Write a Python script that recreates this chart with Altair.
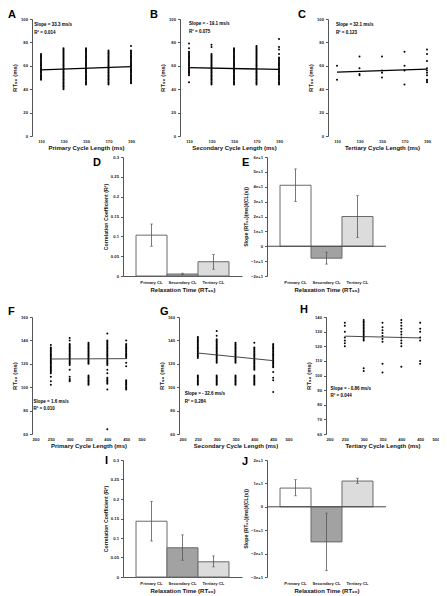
import altair as alt
import pandas as pd

FONT = "Liberation Sans"

# ---------------- scatter data (RT90 values per cycle length) ----------------
CL_TOP = [110, 130, 150, 170, 190]
A_110 = [70, 69, 68, 67, 66, 65, 64, 63, 62, 61, 60, 59, 58, 57, 56, 55, 54, 53, 52, 51, 50, 49, 48]
A_130 = [75, 74, 73, 72, 71, 70, 69, 68, 67, 66, 65, 64, 63, 62, 61, 60, 59, 58, 57, 56, 55, 54, 53, 52, 51, 50, 49, 48, 47, 46, 45, 44, 43, 42, 41, 40]
A_150 = [75, 74, 73, 72, 71, 70, 69, 68, 67, 66, 65, 64, 63, 62, 61, 60, 59, 58, 57, 56, 55, 54, 53, 52, 51, 50, 49, 48, 47, 46, 45, 44]
A_170 = [73, 72, 71, 70, 69, 68, 67, 66, 65, 64, 63, 62, 61, 60, 59, 58, 57, 56, 55, 54, 53, 52, 51, 50, 49, 48, 47, 46, 45, 44]
A_190 = [77, 73, 72, 71, 70, 69, 68, 67, 66, 65, 64, 63, 62, 61, 60, 59, 58, 57, 56, 55, 54, 53, 52, 51, 50, 49, 48, 47, 46, 45]
A_fit = [56.6, 59.3]

B_110 = [79, 75, 72, 71, 70, 69, 68, 67, 66, 65, 64, 63, 62, 61, 60, 59, 58, 57, 56, 55, 54, 53, 52, 46]
B_130 = [78, 76, 70, 69, 68, 67, 66, 65, 64, 63, 62, 61, 60, 59, 58, 57, 56, 55, 54, 53, 52, 51, 50, 49, 48, 47, 46, 45, 44]
B_150 = [75, 74, 73, 72, 71, 70, 69, 68, 67, 66, 65, 64, 63, 62, 61, 60, 59, 58, 57, 56, 55, 54, 53, 52, 51, 50, 49, 48, 47, 46, 45, 44]
B_170 = [77, 76, 75, 74, 73, 72, 71, 70, 69, 68, 67, 66, 65, 64, 63, 62, 61, 60, 59, 58, 57, 56, 55, 54, 53, 52, 51, 50, 49, 48, 47, 46, 45, 44]
B_190 = [83, 76, 74, 70, 67, 66, 65, 64, 63, 62, 61, 60, 59, 58, 57, 56, 55, 54, 53, 52, 51, 50, 49, 48, 47, 46, 45, 44]
B_fit = [58.4, 56.9]

C_110 = [60, 48]
C_130 = [68, 58, 53, 52]
C_150 = [68, 56, 54, 50]
C_170 = [72, 60, 56, 44]
C_190 = [74, 70, 64, 58, 56, 54, 52, 48, 47, 46]
C_fit = [54.6, 57.2]

CL_BOT = [250, 300, 350, 400, 450]
F_250 = [136, 134, 133, 132, 131, 130, 129, 128, 127, 126, 125, 124, 123, 122, 121, 120, 119, 118, 117, 116, 115, 114, 113, 112, 109, 105, 102]
F_300 = [142, 140, 137, 136, 135, 134, 133, 132, 131, 130, 129, 128, 127, 126, 125, 124, 123, 122, 121, 120, 119, 115, 109, 107, 106, 105]
F_350 = [138, 137, 136, 135, 134, 133, 132, 131, 130, 129, 128, 127, 126, 125, 124, 123, 122, 121, 120, 110, 109, 108, 107, 106, 105, 104, 103, 102]
F_400 = [146, 140, 139, 138, 137, 136, 135, 134, 133, 132, 131, 130, 129, 128, 127, 126, 125, 124, 123, 122, 121, 120, 119, 115, 112, 108, 107, 106, 105, 104, 103, 98, 64]
F_450 = [140, 137, 136, 135, 134, 133, 132, 131, 130, 129, 128, 127, 126, 125, 121, 118, 106, 105, 104, 103, 102, 101, 100, 99, 98]
F_fit = [124.1, 124.4]

G_250 = [143, 142, 141, 140, 139, 138, 137, 136, 135, 134, 133, 132, 131, 130, 129, 128, 127, 126, 125, 110, 109, 108, 107, 106, 105, 104, 103, 102]
G_300 = [148, 144, 141, 140, 139, 138, 137, 136, 135, 134, 133, 132, 131, 130, 129, 128, 127, 126, 125, 124, 123, 122, 121, 110, 109, 108, 107, 106, 105, 104, 103, 102]
G_350 = [138, 137, 136, 135, 134, 133, 132, 131, 130, 129, 128, 127, 126, 125, 124, 123, 122, 121, 110, 109, 108, 107, 106, 105, 104, 103, 102]
G_400 = [138, 134, 133, 132, 131, 130, 129, 128, 127, 126, 125, 124, 123, 122, 121, 120, 119, 118, 117, 116, 115, 110, 109, 108, 107, 106, 105, 104, 103, 102]
G_450 = [137, 136, 135, 134, 133, 132, 131, 130, 129, 128, 127, 126, 125, 124, 123, 122, 121, 120, 119, 118, 117, 113, 108, 106, 96]
G_fit = [129.2, 122.7]

H_250 = [136, 134, 130, 126, 124, 122, 120]
H_300 = [138, 137, 136, 135, 134, 133, 132, 131, 130, 129, 128, 127, 126, 125, 124, 105, 103]
H_350 = [136, 133, 131, 129, 127, 125, 123, 108, 102]
H_400 = [138, 136, 134, 132, 130, 128, 126, 124, 122, 120, 106]
H_450 = [136, 132, 130, 126, 124, 110, 108]
H_fit = [126.9, 125.7]

# annotation texts and their data-space anchors
A_notes, A_nx, A_ny = ["Slope = 33.3 ms/s", "R² = 0.014"], [104, 104], [95, 88]
B_notes, B_nx, B_ny = ["Slope = - 19.1 ms/s", "R² = 0.075"], [110, 110], [95.5, 88.5]
C_notes, C_nx, C_ny = ["Slope = 32.1 ms/s", "R² = 0.123"], [109, 109], [95, 88]
F_notes, F_nx, F_ny = ["Slope = 1.6 ms/s", "R² = 0.010"], [204, 204], [87, 81]
G_notes, G_nx, G_ny = ["Slope = - 32.6 ms/s", "R² = 0.284"], [215, 215], [94, 87.5]
H_notes, H_nx, H_ny = ["Slope = - 0.86 ms/s", "R² = 0.044"], [212, 212], [90.5, 86]

# ---------------- bar data ----------------
CATS = ["Primary CL", "Secondary CL", "Tertiary CL"]
BAR_COLORS = ["#ffffff", "#a2a2a2", "#dcdcdc"]
D_val, D_lo, D_hi = [0.103, 0.005, 0.036], [0.075, 0.003, 0.017], [0.131, 0.007, 0.054]
E_val, E_lo, E_hi = [41, -8, 20], [30, -12, 6], [52, -4, 34]
I_val, I_lo, I_hi = [0.143, 0.075, 0.039], [0.092, 0.043, 0.026], [0.194, 0.108, 0.054]
J_val, J_lo, J_hi = [8, -15, 11], [4.7, -27.3, 10], [11.6, -2.7, 12.2]


def letter_title(t, dx, dy):
    return alt.TitleParams(t, anchor="start", frame="group", baseline="top", offset=0,
                           dx=dx, dy=dy, font=FONT, fontSize=11, fontWeight="bold", color="black")


def scatter_panel(letter, cls, cols, fit_x, fit_y, notes, nx, ny, xdom, xticks, ydom, yticks,
                  xtitle, w, h, ldx, ldy, lw, lcolor):
    df = pd.DataFrame([(c, v) for c, col in zip(cls, cols) for v in col], columns=["x", "y"])
    fit = pd.DataFrame({"x": fit_x, "y": fit_y})
    ann = pd.DataFrame({"x": nx, "y": ny, "t": notes})
    X = alt.X("x:Q", scale=alt.Scale(domain=xdom, nice=False, zero=False),
              axis=alt.Axis(values=xticks, title=xtitle, domain=False, ticks=False,
                            labelPadding=3, titlePadding=1.5, format="d"))
    Y = alt.Y("y:Q", scale=alt.Scale(domain=ydom, nice=False, zero=False),
              axis=alt.Axis(values=yticks, title="RT₉₀ (ms)", tickSize=2.5, labelPadding=2,
                            titlePadding=3, format="d"))
    pts = alt.Chart(df).mark_circle(size=4, color="black", opacity=1).encode(x=X, y=Y)
    ln = alt.Chart(fit).mark_line(color=lcolor, strokeWidth=lw).encode(x=X, y=Y)
    tx = alt.Chart(ann).mark_text(align="left", baseline="middle", fontSize=4.5, font=FONT,
                                  fontWeight="bold", color="black").encode(x=X, y=Y, text="t:N")
    return alt.layer(pts, ln, tx).properties(width=w, height=h, title=letter_title(letter, ldx, ldy))


def bar_panel(letter, vals, lo, hi, ydom, yticks, ytitle, w, h, ldx, ldy, show_base, zero_line):
    df = pd.DataFrame({"cat": CATS, "v": vals, "lo": lo, "hi": hi})
    yaxis = alt.Axis(values=yticks, title=ytitle, format="~g", tickSize=2.5, labelPadding=2,
                     titlePadding=2, titleFontSize=5.2)
    ysc = alt.Scale(domain=ydom, nice=False, zero=False)
    X = alt.X("cat:N", sort=CATS, scale=alt.Scale(paddingInner=0, paddingOuter=0.42),
              axis=alt.Axis(title="Relaxation Time (RT₉₀)", labelAngle=0, domain=show_base,
                            ticks=False, labelPadding=4, titlePadding=2))
    bars = alt.Chart(df).mark_bar(stroke="#6a6a6a", strokeWidth=1).encode(
        x=X, y=alt.Y("v:Q", scale=ysc, axis=yaxis), y2=alt.datum(0),
        color=alt.Color("cat:N", scale=alt.Scale(domain=CATS, range=BAR_COLORS), legend=None))
    err = alt.Chart(df).mark_rule(color="#555", strokeWidth=0.8).encode(
        x=X, y=alt.Y("lo:Q", scale=ysc, axis=yaxis), y2="hi:Q")
    cap_lo = alt.Chart(df).mark_tick(color="#555", size=3, thickness=0.8).encode(
        x=X, y=alt.Y("lo:Q", scale=ysc, axis=yaxis))
    cap_hi = alt.Chart(df).mark_tick(color="#555", size=3, thickness=0.8).encode(
        x=X, y=alt.Y("hi:Q", scale=ysc, axis=yaxis))
    layers = [bars, err, cap_lo, cap_hi]
    if zero_line:
        z = alt.Chart(pd.DataFrame({"v": [0]})).mark_rule(color="#444", strokeWidth=1).encode(
            y=alt.Y("v:Q", scale=ysc, axis=yaxis))
        layers.append(z)
    return alt.layer(*layers).properties(width=w, height=h, title=letter_title(letter, ldx, ldy))


def spacer(w, h):
    return alt.Chart(pd.DataFrame({"s": [0]})).mark_point(size=0, strokeWidth=0, opacity=0).encode(
        x=alt.X("s:Q", axis=None, scale=alt.Scale(domain=[0, 1])),
        y=alt.Y("s:Q", axis=None, scale=alt.Scale(domain=[0, 1]))).properties(width=w, height=h)


TOP_X = [102, 198]
TOP_Y = [0, 100]
TOP_YT = [0, 20, 40, 60, 80, 100]
BOT_X = [200, 500]
BOT_XT = [200, 250, 300, 350, 400, 450, 500]

A = scatter_panel("A", CL_TOP, [A_110, A_130, A_150, A_170, A_190], [110, 190], A_fit,
                  A_notes, A_nx, A_ny, TOP_X, CL_TOP, TOP_Y, TOP_YT, "Primary Cycle Length (ms)",
                  108, 117, -24, 2.5, 1.3, "black")
B = scatter_panel("B", CL_TOP, [B_110, B_130, B_150, B_170, B_190], [110, 190], B_fit,
                  B_notes, B_nx, B_ny, TOP_X, CL_TOP, TOP_Y, TOP_YT, "Secondary Cycle Length (ms)",
                  108, 117, -30, 2.5, 1.3, "black")
C = scatter_panel("C", CL_TOP, [C_110, C_130, C_150, C_170, C_190], [110, 190], C_fit,
                  C_notes, C_nx, C_ny, TOP_X, CL_TOP, TOP_Y, TOP_YT, "Tertiary Cycle Length (ms)",
                  108, 117, -30, 2.5, 1.3, "black")
F = scatter_panel("F", CL_BOT, [F_250, F_300, F_350, F_400, F_450], [250, 450], F_fit,
                  F_notes, F_nx, F_ny, BOT_X, BOT_XT, [60, 160], [60, 80, 100, 120, 140, 160],
                  "Primary Cycle Length (ms)", 113, 117, -24, 1.5, 0.9, "#333")
G = scatter_panel("G", CL_BOT, [G_250, G_300, G_350, G_400, G_450], [250, 450], G_fit,
                  G_notes, G_nx, G_ny, BOT_X, BOT_XT, [60, 160], [60, 80, 100, 120, 140, 160],
                  "Secondary Cycle Length (ms)", 113, 117, -19, 1.5, 0.9, "#333")
H = scatter_panel("H", CL_BOT, [H_250, H_300, H_350, H_400, H_450], [250, 450], H_fit,
                  H_notes, H_nx, H_ny, BOT_X, BOT_XT, [60, 140], [60, 70, 80, 90, 100, 110, 120, 130, 140],
                  "Tertiary Cycle Length (ms)", 113, 117, -26, -0.5, 0.9, "#333")

D = bar_panel("D", D_val, D_lo, D_hi, [0, 0.3], [0, 0.05, 0.1, 0.15, 0.2, 0.25, 0.3],
              "Correlation Coefficient (R²)", 119, 119, -30, 12.5, True, False)
E = bar_panel("E", E_val, E_lo, E_hi, [-20, 60], [-20, -10, 0, 10, 20, 30, 40, 50, 60],
              "Slope (RT₉₀)(ms)/(CL(s))", 119, 119, -25, 12.5, False, True)
I = bar_panel("I", I_val, I_lo, I_hi, [0, 0.3], [0, 0.05, 0.1, 0.15, 0.2, 0.25, 0.3],
              "Correlation Coefficient (R²)", 119, 117, -18, 7.5, True, False)
J = bar_panel("J", J_val, J_lo, J_hi, [-30, 20], [-30, -20, -10, 0, 10, 20],
              "Slope (RT₉₀)(ms)/(CL(s))", 119, 117, -25, 8.5, False, True)

row1 = alt.hconcat(A, B, C, spacing=40, bounds="flush")
row2 = alt.hconcat(spacer(66, 1), D, E, spacing=25, bounds="flush")
row3 = alt.hconcat(F, G, H, spacing=34, bounds="flush")
row4 = alt.hconcat(spacer(66, 1), I, J, spacing=25, bounds="flush")

chart = alt.vconcat(row1, spacer(1, 3.2), row2, spacer(1, 9.8), row3, spacer(1, 5.0), row4,
                    spacing=0).properties(
    padding=0
).configure_axis(
    labelFont=FONT, titleFont=FONT, labelFontSize=4.2, titleFontSize=6,
    labelFontWeight="bold", titleFontWeight="bold", labelColor="#222", titleColor="#111",
    domainColor="#555", tickColor="#555", domainWidth=1, grid=False
).configure_view(stroke=None)

chart.save("out.html", embed_options={"renderer": "svg", "actions": False})
